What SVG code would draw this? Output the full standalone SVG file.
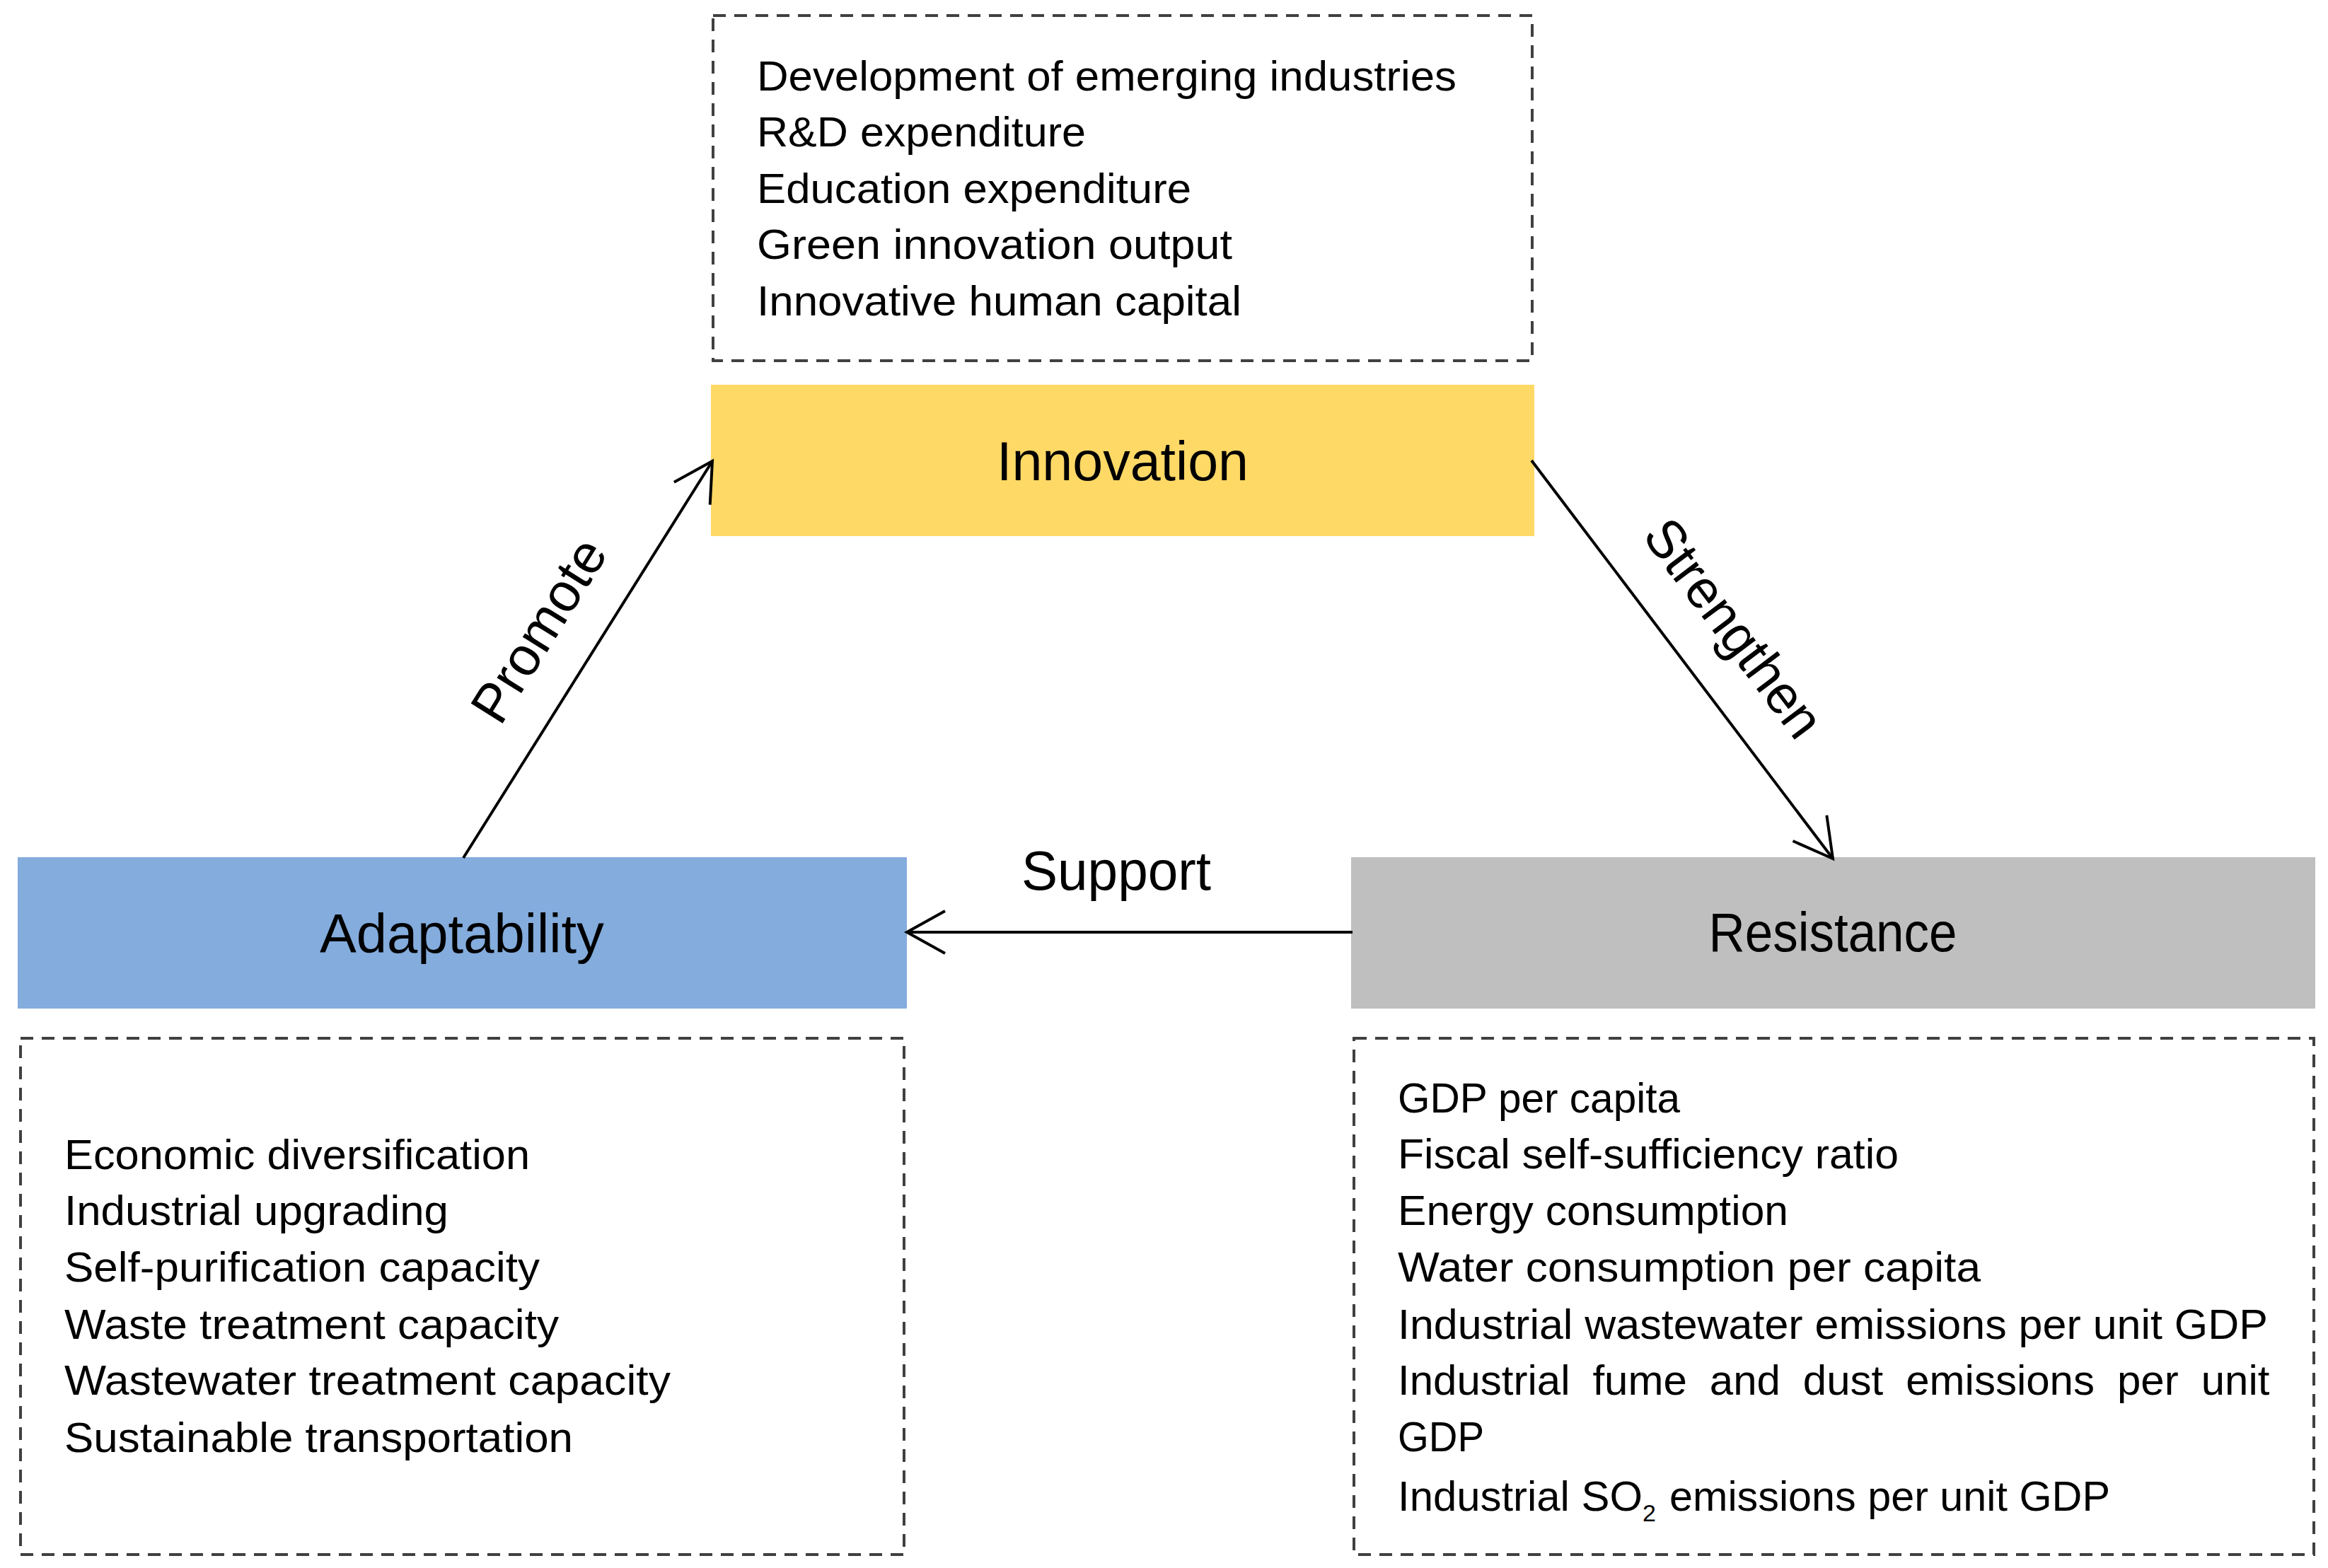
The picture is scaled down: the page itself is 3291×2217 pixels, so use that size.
<svg xmlns="http://www.w3.org/2000/svg" width="3291" height="2217" viewBox="0 0 3291 2217">
  <style>
    .body { font-family: "Liberation Sans", Arial, sans-serif; font-size: 60px; fill: #000; }
    .label { font-family: "Liberation Sans", Arial, sans-serif; font-size: 77px; fill: #000; text-anchor: middle; }
    .dash { fill: #fff; stroke: #404040; stroke-width: 4; stroke-dasharray: 18 12; }
    .conn { stroke: #000; stroke-width: 4; fill: none; marker-end: url(#open); }
  </style>
  <defs>
    <marker id="open" markerUnits="userSpaceOnUse" viewBox="-70 -40 80 80" markerWidth="80" markerHeight="80" refX="0" refY="0" orient="auto" overflow="visible">
      <path d="M-54,-30 L0,0 L-54,30" fill="none" stroke="#000" stroke-width="4" stroke-linejoin="miter"/>
    </marker>
  </defs>
  <rect width="3291" height="2217" fill="#fff"/>

  <g id="innovation-indicators">
    <rect class="dash" x="1008" y="22" width="1158" height="488"/>
    <text class="body" x="1070" y="128" textLength="989" lengthAdjust="spacingAndGlyphs">Development of emerging industries</text>
    <text class="body" x="1070" y="207" textLength="465" lengthAdjust="spacingAndGlyphs">R&amp;D expenditure</text>
    <text class="body" x="1070" y="287" textLength="614" lengthAdjust="spacingAndGlyphs">Education expenditure</text>
    <text class="body" x="1070" y="366" textLength="672" lengthAdjust="spacingAndGlyphs">Green innovation output</text>
    <text class="body" x="1070" y="446" textLength="685" lengthAdjust="spacingAndGlyphs">Innovative human capital</text>
  </g>

  <g id="innovation">
    <rect x="1005" y="544" width="1164" height="214" fill="#FFD966"/>
    <text class="label" x="1587" y="679" textLength="356" lengthAdjust="spacingAndGlyphs">Innovation</text>
  </g>

  <g id="adaptability">
    <rect x="25" y="1212" width="1257" height="214" fill="#84ACDD"/>
    <text class="label" x="653" y="1347" textLength="402" lengthAdjust="spacingAndGlyphs">Adaptability</text>
  </g>

  <g id="adaptability-indicators">
    <rect class="dash" x="29" y="1468" width="1249" height="730"/>
    <text class="body" x="91" y="1653" textLength="658" lengthAdjust="spacingAndGlyphs">Economic diversification</text>
    <text class="body" x="91" y="1732" textLength="543" lengthAdjust="spacingAndGlyphs">Industrial upgrading</text>
    <text class="body" x="91" y="1812" textLength="672" lengthAdjust="spacingAndGlyphs">Self-purification capacity</text>
    <text class="body" x="91" y="1893" textLength="699" lengthAdjust="spacingAndGlyphs">Waste treatment capacity</text>
    <text class="body" x="91" y="1972" textLength="857" lengthAdjust="spacingAndGlyphs">Wastewater treatment capacity</text>
    <text class="body" x="91" y="2053" textLength="719" lengthAdjust="spacingAndGlyphs">Sustainable transportation</text>
  </g>

  <g id="resistance">
    <rect x="1910" y="1212" width="1363" height="214" fill="#BFBFBF"/>
    <text class="label" x="2591" y="1345" textLength="351" lengthAdjust="spacingAndGlyphs">Resistance</text>
  </g>

  <g id="resistance-indicators">
    <rect class="dash" x="1914" y="1468" width="1357" height="730"/>
    <text class="body" x="1976" y="1573" textLength="399" lengthAdjust="spacingAndGlyphs">GDP per capita</text>
    <text class="body" x="1976" y="1652" textLength="708" lengthAdjust="spacingAndGlyphs">Fiscal self-sufficiency ratio</text>
    <text class="body" x="1976" y="1732" textLength="552" lengthAdjust="spacingAndGlyphs">Energy consumption</text>
    <text class="body" x="1976" y="1812" textLength="824" lengthAdjust="spacingAndGlyphs">Water consumption per capita</text>
    <text class="body" x="1976" y="1893" textLength="1230" lengthAdjust="spacingAndGlyphs">Industrial wastewater emissions per unit GDP</text>
    <text class="body" x="1976" y="1972" word-spacing="15.3">Industrial fume and dust emissions per unit</text>
    <text class="body" x="1976" y="2052" textLength="122" lengthAdjust="spacingAndGlyphs">GDP</text>
    <text class="body" y="2136"><tspan x="1976" textLength="346" lengthAdjust="spacingAndGlyphs">Industrial SO</tspan><tspan x="2322" dy="15" font-size="34">2</tspan><tspan x="2360" dy="-15" textLength="623" lengthAdjust="spacingAndGlyphs">emissions per unit GDP</tspan></text>
  </g>

  <g id="connectors">
    <line class="conn" x1="655" y1="1213" x2="1007" y2="652"/>
    <line class="conn" x1="2165" y1="651" x2="2591" y2="1214"/>
    <line class="conn" x1="1912" y1="1318" x2="1282" y2="1318"/>
    <text class="label" transform="translate(784,905) rotate(-58)" textLength="290" lengthAdjust="spacingAndGlyphs">Promote</text>
    <text class="label" transform="translate(2430,904) rotate(53)" textLength="365" lengthAdjust="spacingAndGlyphs">Strengthen</text>
    <text class="label" x="1578" y="1258" textLength="268" lengthAdjust="spacingAndGlyphs">Support</text>
  </g>
</svg>
